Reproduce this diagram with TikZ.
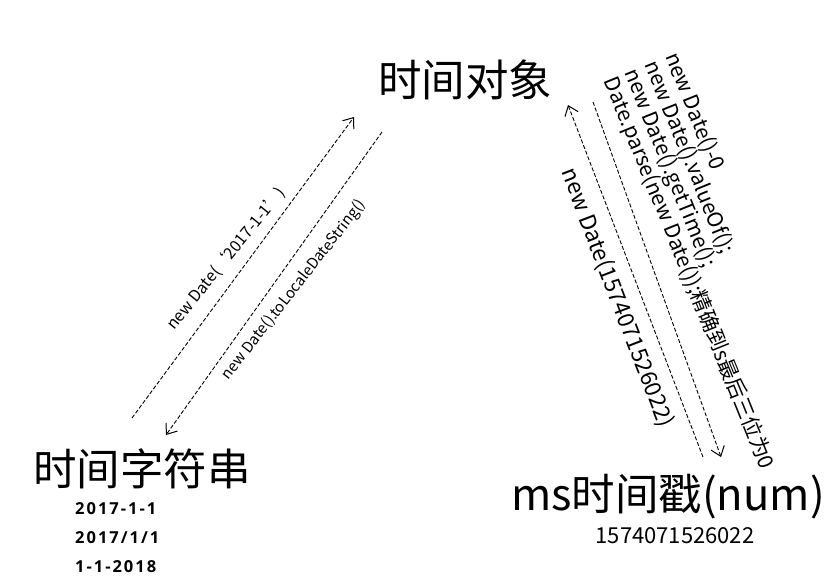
\documentclass[tikz,border=0pt]{standalone}
\usepackage{fontspec}
\setmainfont{Noto Sans CJK SC}
\newfontfamily\datefont{Open Sans}[LetterSpace=12]
\usetikzlibrary{arrows.meta}
\tikzset{
  conn/.style={line width=0.9pt, dash pattern=on 4pt off 2pt,
    -{Straight Barb[length=9pt,width=14pt,line width=1pt]}},
  bigtitle/.style={font=\fontsize{43.5}{43.5}\selectfont, inner sep=0pt},
  lbl/.style={font=\fontsize{16}{16}\selectfont, inner sep=0pt},
  rlbl/.style={font=\fontsize{21}{21}\selectfont, inner sep=0pt, anchor=base west, rotate=-68},
  datelbl/.style={font=\datefont\bfseries\fontsize{16.5}{16.5}\selectfont, inner sep=0pt, anchor=base west},
}
\begin{document}
\begin{tikzpicture}[x=1pt,y=-1pt]
\useasboundingbox (0,0) rectangle (834,576);
% main nodes
\node[bigtitle] (obj) at (465,80) {时间对象};
\node[bigtitle] (str) at (142,469) {时间字符串};
\node[bigtitle] (ms) at (668,497) {ms时间戳(num)};
% values
\node[datelbl] (d1) at (75,514) {2017-1-1};
\node[datelbl] (d2) at (75,543) {2017/1/1};
\node[datelbl] (d3) at (75,572) {1-1-2018};
\node[inner sep=0pt, anchor=base, font=\fontsize{22}{22}\selectfont] (num) at (675,543) {1574071526022};
% connector end points
\coordinate (a1s) at (132,418);
\coordinate (a1e) at (354,117);
\coordinate (a2s) at (382,132);
\coordinate (a2e) at (166,435);
\coordinate (a3s) at (703,457);
\coordinate (a3e) at (568,105);
\coordinate (a4s) at (593,102);
\coordinate (a4e) at (721,457);
\draw[conn] (a1s) -- (a1e);
\draw[conn] (a2s) -- (a2e);
\draw[conn] (a3s) -- (a3e);
\draw[conn] (a4s) -- (a4e);
% labels
\node[lbl, rotate=51] (l1) at (226,259) {new Date(‘2017-1-1’)};
\node[lbl, rotate=52, font=\fontsize{15}{15}\selectfont] (l2) at (294,290) {new Date().toLocaleDateString()};
\node[inner sep=0pt, rotate=-69, font=\fontsize{22.5}{22.5}\selectfont] (l3) at (617,298) {new Date(1574071526022)};
\node[rlbl] (r1) at (665,56) {new Date()-0};
\node[rlbl] (r2) at (644.6,64.3) {new Date().valueOf();};
\node[rlbl] (r3) at (624.2,72.5) {new Date().getTime();};
\node[rlbl] (r4) at (603.8,80.8) {Date.parse(new Date());精确到s最后三位为0};
\end{tikzpicture}
\end{document}
